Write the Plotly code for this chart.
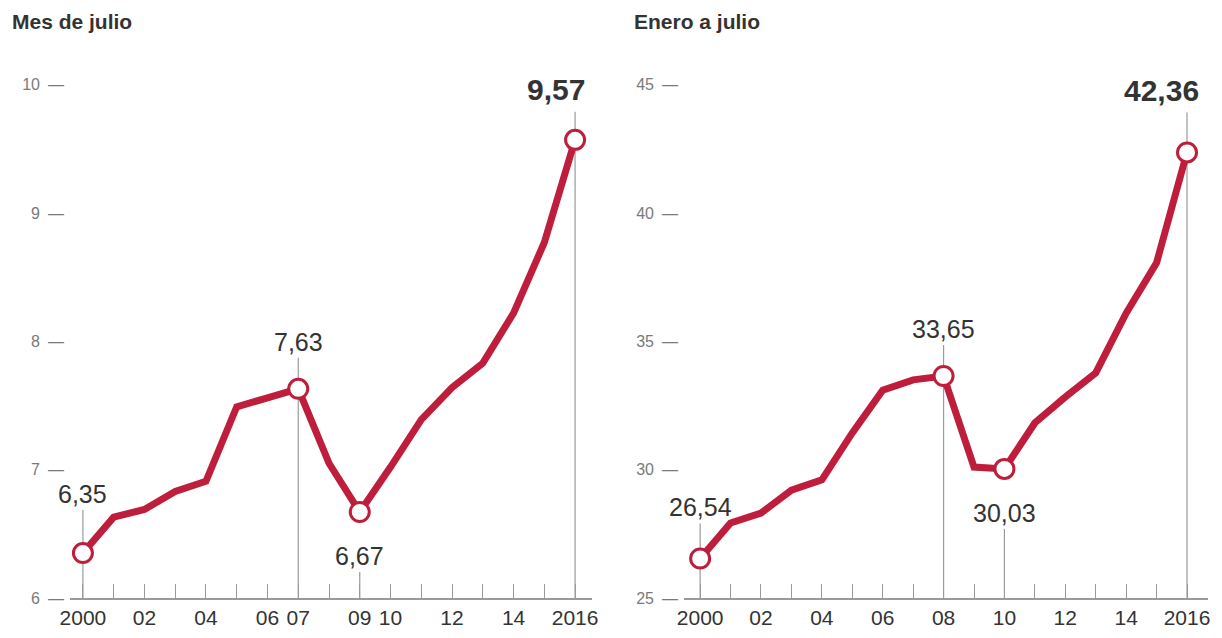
import plotly.graph_objects as go

# ---------------- data ----------------
years = list(range(2000, 2017))
julio = [6.35, 6.63, 6.69, 6.83, 6.91, 7.49, 7.56, 7.63, 7.05, 6.67,
         7.02, 7.39, 7.64, 7.83, 8.22, 8.77, 9.57]
enero_julio = [26.54, 27.92, 28.31, 29.20, 29.60, 31.43, 33.10, 33.50, 33.65, 30.10,
               30.03, 31.82, 32.83, 33.77, 36.10, 38.06, 42.36]

left_title = "Mes de julio"
right_title = "Enero a julio"

left_ticks_y = [6, 7, 8, 9, 10]
right_ticks_y = [25, 30, 35, 40, 45]

left_xlabels = {2000: "2000", 2002: "02", 2004: "04", 2006: "06", 2007: "07",
                2009: "09", 2010: "10", 2012: "12", 2014: "14", 2016: "2016"}
right_xlabels = {2000: "2000", 2002: "02", 2004: "04", 2006: "06", 2008: "08",
                 2010: "10", 2012: "12", 2014: "14", 2016: "2016"}

# highlighted points: year -> label position ("up"/"down")
left_highlights = {2000: "up", 2007: "up", 2009: "down", 2016: "up"}
right_highlights = {2000: "up", 2008: "up", 2010: "down", 2016: "up"}

# ---------------- style ----------------
W, H = 1222, 638
RED = "#BE1E3C"
DARK = "#333333"
GRAY = "#7a7a7a"
FONT = "Liberation Sans Narrow, Liberation Sans, Arial, sans-serif"

bottom_px, top_px = 598, 59
ydom = [(H - bottom_px) / H, (H - top_px) / H]
left_dom = [70 / W, 592 / W]
right_dom = [684 / W, 1208 / W]
left_yrange = [6, 10.2]
right_yrange = [25, 46]
left_xrange = [1999.58, 2016.55]
right_xrange = [1999.47, 2016.69]

fig = go.Figure()


def fmt(v):
    return f"{v:.2f}".replace(".", ",")


def add_panel(xa, ya, vals, highlights, yr, first_shift, big_shift, big_xshift):
    px_per_unit = (bottom_px - top_px) / (yr[1] - yr[0])
    for yr_ in highlights:
        i = years.index(yr_)
        v = vals[i]
        big = (yr_ == years[-1])
        xshift = 0
        text = fmt(v)
        if highlights[yr_] == "up":
            if big:
                shift = big_shift
                top = v + (shift - 22) / px_per_unit
                size = 30
                xshift = big_xshift
                text = f"<b>{text}</b>"
            else:
                shift = first_shift if yr_ == years[0] else 47
                top = v + (shift - 16) / px_per_unit
                size = 25
        else:
            shift = -44
            top = v + (shift - 16) / px_per_unit
            size = 25
        fig.add_shape(type="line", xref=xa, yref=ya, x0=yr_, x1=yr_,
                      y0=yr[0], y1=top, line=dict(color="#9a9a9a", width=1.2),
                      layer="below")
        fig.add_annotation(xref=xa, yref=ya, x=yr_, y=v, yshift=shift, xshift=xshift,
                           text=text, showarrow=False,
                           font=dict(family=FONT, size=size, color=DARK))
    fig.add_trace(go.Scatter(x=years, y=vals, mode="lines", xaxis=xa, yaxis=ya,
                             line=dict(color=RED, width=7), hoverinfo="skip",
                             showlegend=False))
    hx = list(highlights)
    hy = [vals[years.index(y)] for y in highlights]
    fig.add_trace(go.Scatter(x=hx, y=hy, mode="markers", xaxis=xa, yaxis=ya,
                             marker=dict(size=19, color="white",
                                         line=dict(color=RED, width=3)),
                             hoverinfo="skip", showlegend=False))


add_panel("x", "y", julio, left_highlights, left_yrange, 59, 50, -19)
add_panel("x2", "y2", enero_julio, right_highlights, right_yrange, 51, 62, -26)


def xaxis(dom, xr, labels, anchor):
    return dict(domain=dom, range=xr, anchor=anchor, automargin=False,
                tickvals=years, ticktext=[labels.get(y, "") for y in years],
                ticks="inside", ticklen=14, tickwidth=1, tickcolor="#9a9a9a",
                showline=True, linecolor="#9a9a9a", linewidth=1.5,
                showgrid=False, zeroline=False,
                tickfont=dict(family=FONT, size=21, color=DARK), fixedrange=True)


def yaxis(yr, ticks, anchor):
    return dict(domain=ydom, range=yr, anchor=anchor, automargin=False,
                tickvals=ticks, ticktext=[f"{t}\u2002\u2014" for t in ticks],
                ticks="", showline=False, showgrid=False, zeroline=False,
                ticklabelstandoff=5,
                tickfont=dict(family=FONT, size=16, color=GRAY), fixedrange=True)


fig.update_layout(
    width=W, height=H,
    margin=dict(l=0, r=0, t=0, b=0, autoexpand=False),
    paper_bgcolor="white", plot_bgcolor="white",
    xaxis=xaxis(left_dom, left_xrange, left_xlabels, "y"),
    yaxis=yaxis(left_yrange, left_ticks_y, "x"),
    xaxis2=xaxis(right_dom, right_xrange, right_xlabels, "y2"),
    yaxis2=yaxis(right_yrange, right_ticks_y, "x2"),
    showlegend=False,
)

fig.add_annotation(xref="paper", yref="paper", x=10 / W, y=(H - 22) / H,
                   xanchor="left", yanchor="middle", showarrow=False,
                   text=f"<b>{left_title}</b>",
                   font=dict(family=FONT, size=21, color=DARK))
fig.add_annotation(xref="paper", yref="paper", x=632 / W, y=(H - 22) / H,
                   xanchor="left", yanchor="middle", showarrow=False,
                   text=f"<b>{right_title}</b>",
                   font=dict(family=FONT, size=21, color=DARK))

fig.write_html("out.html")
